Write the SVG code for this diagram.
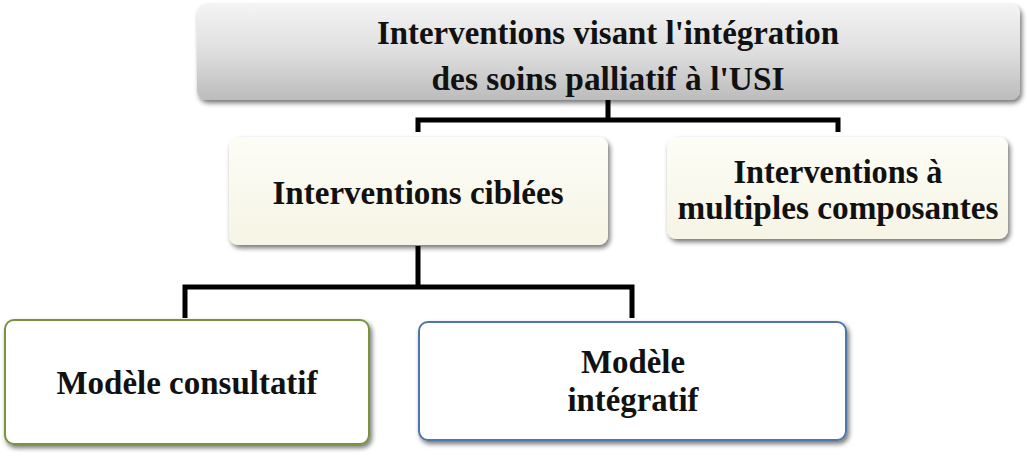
<svg xmlns="http://www.w3.org/2000/svg" width="1027" height="462" viewBox="0 0 1027 462">
<defs>
<linearGradient id="gGrey" x1="0" y1="0" x2="0" y2="1">
<stop offset="0" stop-color="#f4f4f4"/>
<stop offset="0.5" stop-color="#dedede"/>
<stop offset="1" stop-color="#bcbcbc"/>
</linearGradient>
<linearGradient id="gCream" x1="0" y1="0" x2="0" y2="1">
<stop offset="0" stop-color="#fdfdf7"/>
<stop offset="1" stop-color="#f6f4e4"/>
</linearGradient>
<filter id="sh" x="-5%" y="-10%" width="110%" height="130%">
<feGaussianBlur in="SourceAlpha" stdDeviation="2.5"/>
<feOffset dx="2" dy="3" result="b"/>
<feComponentTransfer><feFuncA type="linear" slope="0.55"/></feComponentTransfer>
<feMerge><feMergeNode/><feMergeNode in="SourceGraphic"/></feMerge>
</filter>
</defs>
<style>
text{font-family:"Liberation Serif","Times New Roman",serif;font-weight:bold;font-size:33px;fill:#111;text-anchor:middle}
.conn{fill:none;stroke:#000;stroke-width:5;stroke-linejoin:miter}
</style>
<rect width="1027" height="462" fill="#fff"/>
<g id="connectors">
<path class="conn" d="M608,100 V120 M418,132 V120 H838 V132"/>
<path class="conn" d="M418,246 V287 M185,318 V287 H632 V318"/>
</g>
<g id="top">
<rect x="197" y="4" width="823" height="96" rx="9" fill="url(#gGrey)" filter="url(#sh)"/>
<text x="608" y="44" textLength="462" lengthAdjust="spacingAndGlyphs">Interventions visant l'intégration</text>
<text x="608" y="90" textLength="353" lengthAdjust="spacingAndGlyphs">des soins palliatif à l'USI</text>
</g>
<g id="ciblees">
<rect x="229" y="137" width="379" height="108" rx="9" fill="url(#gCream)" filter="url(#sh)"/>
<text x="418" y="204" textLength="291" lengthAdjust="spacingAndGlyphs">Interventions ciblées</text>
</g>
<g id="multiples">
<rect x="667" y="137" width="341" height="102" rx="9" fill="url(#gCream)" filter="url(#sh)"/>
<text x="838" y="183" textLength="209" lengthAdjust="spacingAndGlyphs">Interventions à</text>
<text x="838" y="219" textLength="321" lengthAdjust="spacingAndGlyphs">multiples composantes</text>
</g>
<g id="consultatif">
<rect x="5" y="320" width="364" height="124" rx="9" fill="#fff" stroke="#77933c" stroke-width="2" filter="url(#sh)"/>
<text x="187" y="394" textLength="261" lengthAdjust="spacingAndGlyphs">Modèle consultatif</text>
</g>
<g id="integratif">
<rect x="419" y="322" width="427" height="118" rx="9" fill="#fff" stroke="#4f76a8" stroke-width="2" filter="url(#sh)"/>
<text x="633" y="373" textLength="104" lengthAdjust="spacingAndGlyphs">Modèle</text>
<text x="633" y="411" textLength="131" lengthAdjust="spacingAndGlyphs">intégratif</text>
</g>
</svg>
